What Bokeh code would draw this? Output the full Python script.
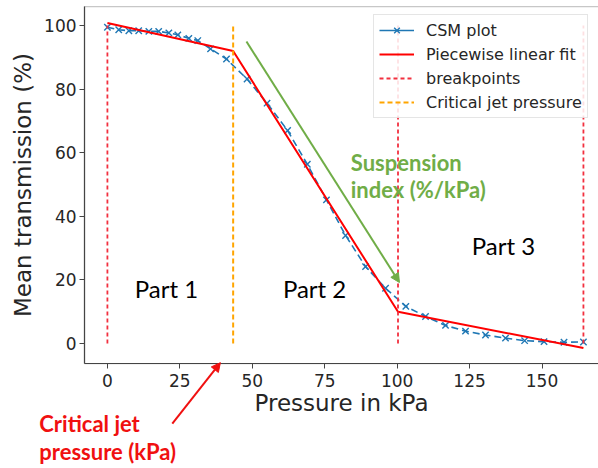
from bokeh.plotting import figure
from bokeh.models import (Label, Arrow, NormalHead, Legend, LegendItem,
                          FixedTicker, Range1d, ColumnDataSource, BoxAnnotation)
from bokeh.embed import file_html
from bokeh.resources import INLINE

# ---- data ----
csm_x = [0, 3.9, 7.4, 10.8, 14.3, 17.7, 21.2, 24.3, 28.1, 31.2, 35.6, 41.1,
         48.2, 55.1, 62.2, 69.0, 75.6, 82.2, 89.1, 96.0, 103.0, 109.8, 116.7,
         123.6, 130.5, 137.4, 144.0, 150.7, 157.6, 164.3]
csm_y = [99.5, 98.7, 98.4, 98.4, 98.2, 98.2, 97.7, 97.1, 96.0, 95.3, 92.7, 89.5,
         83.2, 75.6, 67.0, 56.4, 45.2, 34.0, 24.2, 17.4, 11.7, 8.5, 5.7,
         3.9, 2.7, 1.7, 0.9, 0.6, 0.4, 0.5]
fit_x = [0, 43.4, 100.3, 164.3]
fit_y = [100.8, 92.0, 10.0, -1.4]
breakpoints = [0, 100.3, 164.3]
critical_pressure = [43.4]
vline_bottom = 0
vline_top = 100
x_ticks = [0, 25, 50, 75, 100, 125, 150]
y_ticks = [0, 20, 40, 60, 80, 100]

# axes box (data limits of the original plotting area)
X_MIN, X_MAX = -7.9, 169.5
Y_MIN, Y_MAX = -6.3, 106.0

BLUE = "#1f77b4"
RED = "#ff0000"
BP_RED = "#f2303f"
ORANGE = "#ffa500"
GREEN = "#70ad47"
TXT_RED = "#f01010"
AX = "#444444"

p = figure(width=598, height=468, x_range=Range1d(-36.9, X_MAX),
           y_range=Range1d(-39.3, 107.9), output_backend="svg",
           toolbar_location=None, title=None,
           min_border_left=0, min_border_right=0, min_border_top=0,
           min_border_bottom=0)
p.grid.visible = False
p.outline_line_color = None
p.background_fill_color = "white"
p.border_fill_color = "white"

for ax in (p.xaxis[0], p.yaxis[0]):
    ax.axis_line_color = AX
    ax.axis_line_width = 1.2
    ax.major_tick_line_color = AX
    ax.major_tick_in = 0
    ax.major_tick_out = 5
    ax.minor_tick_line_color = None
    ax.major_label_text_font = "DejaVu Sans"
    ax.major_label_text_font_size = "17px"
    ax.major_label_text_color = "#262626"
    ax.axis_label_text_font = "DejaVu Sans"
    ax.axis_label_text_font_size = "23px"
    ax.axis_label_text_font_style = "normal"
    ax.axis_label_text_color = "#262626"

p.xaxis.ticker = FixedTicker(ticks=x_ticks)
p.yaxis.ticker = FixedTicker(ticks=y_ticks)
p.xaxis.fixed_location = Y_MIN
p.yaxis.fixed_location = X_MIN
p.xaxis.bounds = (X_MIN, X_MAX)
p.yaxis.bounds = (Y_MIN, Y_MAX)
p.xaxis.axis_label = "Pressure in kPa"
p.yaxis.axis_label = "Mean transmission (%)"
p.xaxis.major_label_standoff = 5
p.yaxis.major_label_standoff = 3
p.xaxis.axis_label_standoff = 0
p.yaxis.axis_label_standoff = 5

# top spine of the axes box (right spine falls just outside the picture)
p.add_layout(BoxAnnotation(left=X_MIN, right=X_MAX + 1, bottom=Y_MIN,
                           top=Y_MAX, fill_alpha=0, line_color=AX,
                           line_width=1.2, level="underlay"))

csm_src = ColumnDataSource(dict(x=csm_x, y=csm_y))
csm_line = p.line("x", "y", source=csm_src, line_color=BLUE, line_width=1.6,
                  line_dash="7 4")
csm_pts = p.scatter("x", "y", source=csm_src, marker="x", size=9,
                    line_color=BLUE, line_width=1.4)
# one-point line: draws nothing in the plot, gives a solid line in the legend
csm_legend_line = p.line(x=csm_x[:1], y=csm_y[:1], line_color=BLUE,
                         line_width=1.6)

fit = p.line(fit_x, fit_y, line_color=RED, line_width=2)

bp = p.segment(x0=breakpoints, y0=[vline_bottom] * len(breakpoints),
               x1=breakpoints, y1=[vline_top] * len(breakpoints),
               line_color=BP_RED, line_width=1.8, line_dash="4 3")
cj = p.segment(x0=critical_pressure, y0=[vline_bottom], x1=critical_pressure,
               y1=[vline_top], line_color=ORANGE, line_width=2,
               line_dash="5 3")

legend = Legend(items=[
    LegendItem(label="CSM plot", renderers=[csm_legend_line, csm_pts]),
    LegendItem(label="Piecewise linear fit", renderers=[fit]),
    LegendItem(label="breakpoints", renderers=[bp]),
    LegendItem(label="Critical jet pressure", renderers=[cj]),
], location=(373, 350))
legend.label_text_font = "DejaVu Sans"
legend.label_text_font_size = "16px"
legend.label_text_color = "#262626"
legend.glyph_width = 35
legend.glyph_height = 20
legend.label_height = 20
legend.spacing = 4
legend.padding = 5
legend.label_standoff = 12
legend.margin = 0
legend.border_line_color = "#cccccc"
legend.border_line_width = 1
legend.background_fill_alpha = 0.85
p.add_layout(legend)

# ---- annotations ----
for txt, x, y in [("Part 1", 20.4, 17.3), ("Part 2", 71.5, 17.3),
                  ("Part 3", 136.7, 30.8)]:
    p.add_layout(Label(x=x, y=y, text=txt, text_font="Lato",
                       text_font_size="24px", text_color="black",
                       text_align="center", text_baseline="middle"))

for txt, y in [("Suspension", 57.0), ("index (%/kPa)", 48.5)]:
    p.add_layout(Label(x=84.0, y=y, text=txt, text_font="Lato",
                       text_font_style="bold", text_font_size="22px",
                       text_color=GREEN, text_align="left",
                       text_baseline="middle"))

p.add_layout(Arrow(x_start=48.0, y_start=95.0, x_end=100.8, y_end=19.2,
                   line_color=GREEN, line_width=2,
                   end=NormalHead(size=9, fill_color=GREEN, line_color=GREEN)))

for txt, y in [("Critical jet", -25.2), ("pressure (kPa)", -34.0)]:
    p.add_layout(Label(x=-23.5, y=y, text=txt, text_font="Lato",
                       text_font_style="bold", text_font_size="22px",
                       text_color=TXT_RED, text_align="left",
                       text_baseline="middle"))

p.add_layout(Arrow(x_start=22.4, y_start=-25.2, x_end=39.0, y_end=-6.0,
                   line_color=TXT_RED, line_width=2,
                   end=NormalHead(size=9, fill_color=TXT_RED,
                                  line_color=TXT_RED)))

open("out.html", "w").write(file_html(p, INLINE))
